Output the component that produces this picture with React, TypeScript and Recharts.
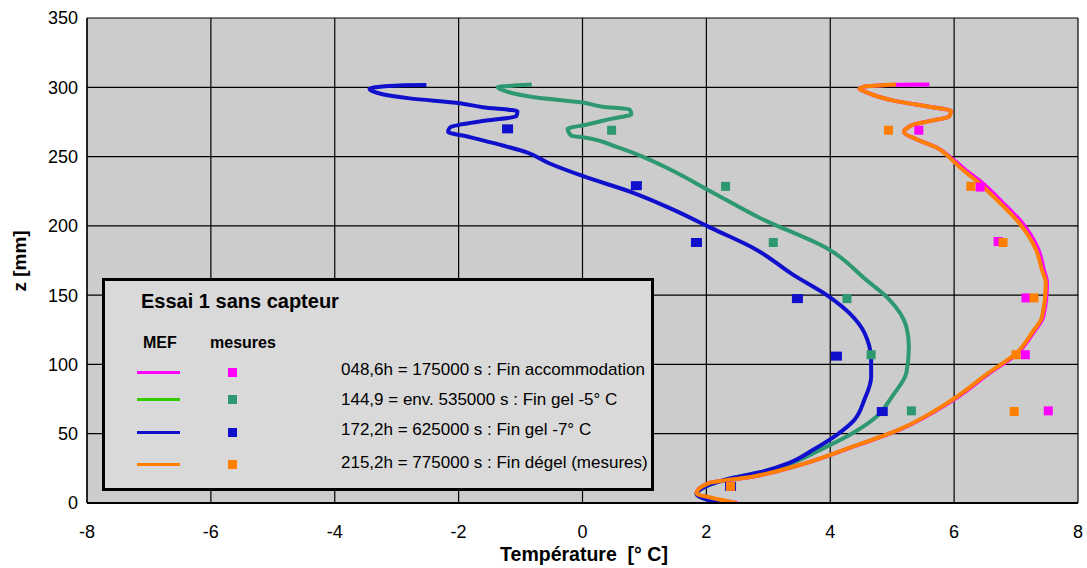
import { ComposedChart, Line, Scatter, XAxis, YAxis, CartesianGrid } from 'recharts'

const xTicks = [-8, -6, -4, -2, 0, 2, 4, 6, 8]
const yTicks = [0, 50, 100, 150, 200, 250, 300, 350]

// MEF curves (temperature °C, depth mm), listed from top to bottom
const blueT = [-2.52, -2.9, -3.44, -3.23, -2.79, -1.98, -1.61, -1.05, -1.07, -1.55, -2.14, -2.17, -1.82, -1.29, -0.9, -0.53, 0, 0.81, 1.4, 2.1, 2.8, 3.39, 3.98, 4.31, 4.55, 4.66, 4.66, 4.55, 4.39, 4.1, 3.71, 3.34, 2.85, 2.32, 1.89, 1.84, 2.05, 2.42]
const blueZ = [301.6, 301.4, 299, 295, 292, 288.5, 285.6, 282.7, 279, 276, 271, 268, 264, 258, 253, 245, 236, 224, 213, 198, 183, 165, 149, 137, 123, 103, 91, 74.5, 60, 49, 38, 29, 22, 17, 9.4, 6.5, 2, 0]

const greenT = [-0.82, -1.37, -1.23, -0.81, 0, 0.32, 0.76, 0.79, 0.44, 0.06, -0.24, -0.18, 0, 0.55, 0.97, 1.4, 2.13, 2.85, 3.98, 4.58, 4.95, 5.23, 5.27, 5.23, 5.0, 4.74, 4.31, 3.82, 3.39, 2.85, 2.32, 1.89, 1.84, 2.05, 2.42]
const greenZ = [302, 300, 297, 293, 289, 286, 284, 280.6, 277, 273, 270, 265, 264, 257, 250, 241, 223.4, 206, 183, 161, 147, 127, 113, 94, 77, 62, 49, 38, 29, 22, 17, 9.4, 6.5, 2, 0]

const magentaT = [5.6, 5.06, 4.55, 4.47, 4.58, 5.06, 5.6, 5.95, 5.92, 5.6, 5.32, 5.19, 5.39, 5.71, 5.94, 6.17, 6.45, 6.78, 7.1, 7.36, 7.45, 7.5, 7.44, 7.28, 7.02, 6.58, 5.99, 5.12, 4.36, 3.39, 2.74, 2.05, 1.84, 2.12, 2.5]
const magentaZ = [302.1, 301.9, 300.5, 299, 296.5, 290, 286, 283, 279, 275.6, 272.7, 267.5, 262.5, 256.7, 249.5, 240.8, 231, 217, 202, 183, 168, 159, 134.5, 123, 108, 94, 74.5, 53, 40.5, 26, 19, 14.5, 7, 3, 0]

const orangeT = [5.06, 4.55, 4.47, 4.58, 5.06, 5.6, 5.95, 5.92, 5.6, 5.32, 5.19, 5.39, 5.71, 5.92, 6.13, 6.4, 6.73, 7.05, 7.32, 7.42, 7.48, 7.42, 7.26, 7.0, 6.56, 5.97, 5.11, 4.35, 3.39, 2.74, 2.05, 1.84, 2.1, 2.48]
const orangeZ = [302, 300.5, 299, 296.5, 290, 286, 283, 279, 275.6, 272.7, 267.5, 262.5, 256.7, 249.5, 240.8, 231, 217, 202, 183, 168, 159, 134.5, 123, 108, 94, 74.5, 53, 40.5, 26, 19, 14.5, 7, 3.6, 0]

// measured points
const blueMT = [-1.21, 0.87, 1.84, 3.47, 4.1, 4.84, 2.39]
const blueMZ = [270, 229, 188, 147.5, 106, 66, 12]
const greenMT = [0.47, 2.31, 3.08, 4.27, 4.66, 5.31, 2.39]
const greenMZ = [269, 228.5, 188, 147.5, 107, 66.5, 12]
const magentaMT = [5.43, 6.42, 6.71, 7.16, 7.15, 7.52, 2.39]
const magentaMZ = [269, 228, 188.7, 148, 107, 66.5, 12]
const orangeMT = [4.94, 6.27, 6.79, 7.29, 7.0, 6.97, 2.39]
const orangeMZ = [269, 228.5, 188, 148, 107, 66, 12]

const legendRows = [
  { line: '#ff00ff', mark: '#ff00ff', label: '048,6h = 175000 s : Fin accommodation' },
  { line: '#33cc00', mark: '#2e9970', label: '144,9 = env. 535000 s : Fin gel -5° C' },
  { line: '#1010cc', mark: '#1010cc', label: '172,2h = 625000 s : Fin gel -7° C' },
  { line: '#ff8000', mark: '#ff8000', label: '215,2h = 775000 s : Fin dégel (mesures)' },
]

const zip = (t: number[], z: number[]) => t.map((v, i) => ({ t: v, z: z[i] }))

const FONT = '"Liberation Sans", Arial, sans-serif'

const square = (color: string, w = 9, h = 9) => (p: any) =>
  <rect x={p.cx - w / 2} y={p.cy - h / 2} width={w} height={h} fill={color} />

export default function App() {
  return (
    <div style={{ position: 'absolute', left: 0, top: 0, width: 1087, height: 568, background: '#fff', fontFamily: FONT }}>
      <ComposedChart width={1087} height={568} margin={{ top: 18, right: 9, bottom: 35, left: 27 }}>
        <CartesianGrid stroke="#000" strokeWidth={1.2} fill="#cccccc" fillOpacity={1} />
        <XAxis
          type="number"
          dataKey="t"
          domain={[-8, 8]}
          ticks={xTicks}
          height={30}
          tickLine={false}
          tickMargin={16}
          axisLine={{ stroke: '#000', strokeWidth: 2 }}
          tick={{ fontSize: 18, fill: '#000', fontFamily: FONT }}
          allowDataOverflow
        />
        <YAxis
          type="number"
          dataKey="z"
          domain={[0, 350]}
          ticks={yTicks}
          width={60}
          tickLine={false}
          tickMargin={3}
          axisLine={{ stroke: '#000', strokeWidth: 1.2 }}
          tick={{ fontSize: 18, fill: '#000', fontFamily: FONT }}
          allowDataOverflow
        />
        <Line data={zip(magentaT, magentaZ)} dataKey="z" stroke="#ff00ff" strokeWidth={4} dot={false} type="monotoneY" isAnimationActive={false} />
        <Line data={zip(greenT, greenZ)} dataKey="z" stroke="#2e9970" strokeWidth={4} dot={false} type="monotoneY" isAnimationActive={false} />
        <Line data={zip(blueT, blueZ)} dataKey="z" stroke="#1010cc" strokeWidth={4} dot={false} type="monotoneY" isAnimationActive={false} />
        <Line data={zip(orangeT, orangeZ)} dataKey="z" stroke="#ff8000" strokeWidth={4} dot={false} type="monotoneY" isAnimationActive={false} />
        <Scatter data={zip(blueMT, blueMZ)} shape={square('#1010cc', 11, 9)} isAnimationActive={false} />
        <Scatter data={zip(greenMT, greenMZ)} shape={square('#2e9970')} isAnimationActive={false} />
        <Scatter data={zip(magentaMT, magentaMZ)} shape={square('#ff00ff')} isAnimationActive={false} />
        <Scatter data={zip(orangeMT, orangeMZ)} shape={square('#ff8000')} isAnimationActive={false} />
      </ComposedChart>

      <div style={{ position: 'absolute', left: 19, top: 261, transform: 'translate(-50%, -50%) rotate(-90deg)', whiteSpace: 'nowrap', fontWeight: 'bold', fontSize: 19, lineHeight: 1 }}>
        z [mm]
      </div>
      <div style={{ position: 'absolute', left: 584, top: 555, transform: 'translate(-50%, -50%)', whiteSpace: 'pre', fontWeight: 'bold', fontSize: 19.5, lineHeight: 1 }}>
        {'Température  [° C]'}
      </div>

      <div style={{ position: 'absolute', left: 102, top: 278, width: 546, height: 207, border: '3px solid #000', background: '#d9d9d9', fontSize: 17 }}>
        <div style={{ position: 'absolute', left: 36, top: 9, fontWeight: 'bold', fontSize: 20, whiteSpace: 'nowrap' }}>Essai 1 sans capteur</div>
        <div style={{ position: 'absolute', left: 38, top: 53, fontWeight: 'bold', fontSize: 16 }}>MEF</div>
        <div style={{ position: 'absolute', left: 105, top: 53, fontWeight: 'bold', fontSize: 16 }}>mesures</div>
        {legendRows.map((r, i) => {
          const cy = [91, 118, 151, 183][i]
          const ty = [78.5, 108.5, 138.5, 171.5][i]
          return (
            <div key={r.label}>
              <div style={{ position: 'absolute', left: 32, top: cy - 1.5, width: 43, height: 3, background: r.line }} />
              <div style={{ position: 'absolute', left: 123, top: cy - 4.5, width: 9, height: 9, background: r.mark }} />
              <div style={{ position: 'absolute', left: 236, top: ty, whiteSpace: 'nowrap' }}>{r.label}</div>
            </div>
          )
        })}
      </div>
    </div>
  )
}
